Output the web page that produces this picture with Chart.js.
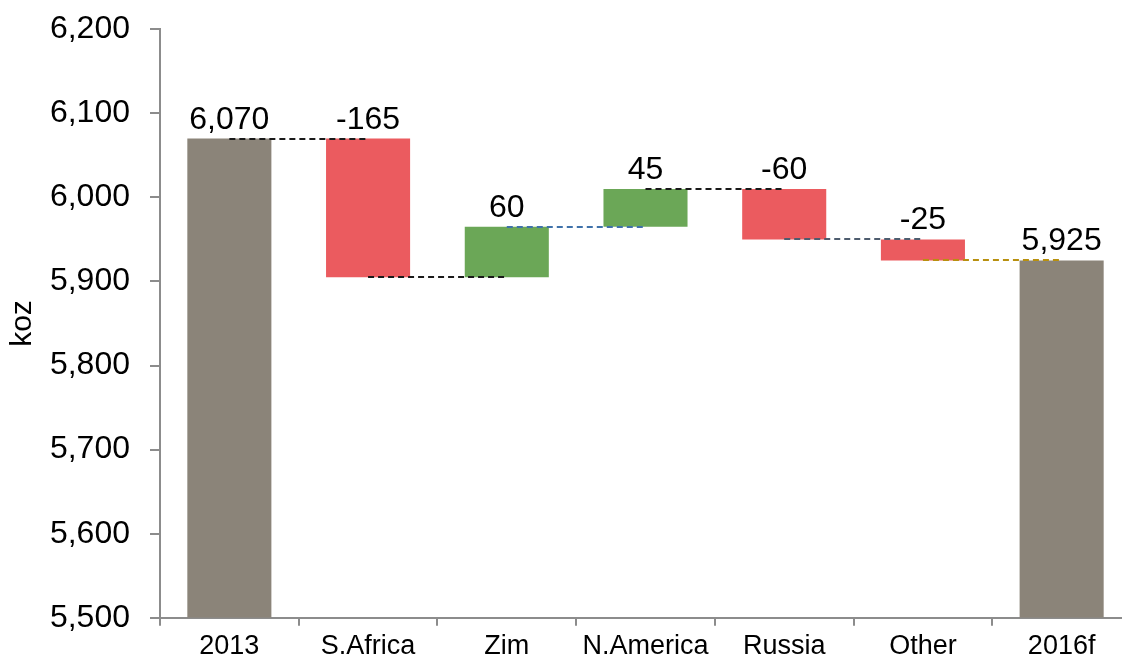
<!DOCTYPE html>
<html>
<head>
<meta charset="utf-8">
<script src="https://cdn.jsdelivr.net/npm/chart.js@4"></script>
<style>
  html, body { margin: 0; padding: 0; background: #fff; overflow: hidden; }
  #wrap { width: 1131px; height: 667px; margin-top: -10px; position: relative; }
</style>
</head>
<body>
<div id="wrap"><canvas id="waterfall"></canvas></div>
<script>
// production bridge, koz
var categories = ['2013', 'S.Africa', 'Zim', 'N.America', 'Russia', 'Other', '2016f'];
var startTotal = 6070;
var changes = [-165, 60, 45, -60, -25];
var endTotal = 5925;
var yTicks = [5500, 5600, 5700, 5800, 5900, 6000, 6100, 6200];

// build floating bars [low, high] from the running level
var ranges = [[yTicks[0], startTotal]];
var labels = [startTotal.toLocaleString('en-US')];
var kinds = ['total'];
var level = startTotal;
changes.forEach(function (d) {
    var next = level + d;
    ranges.push([Math.min(level, next), Math.max(level, next)]);
    labels.push(String(d));
    kinds.push(d < 0 ? 'down' : 'up');
    level = next;
});
ranges.push([yTicks[0], endTotal]);
labels.push(endTotal.toLocaleString('en-US'));
kinds.push('total');

var colours = { total: '#8b8479', down: '#eb5b5f', up: '#6ba757' };
var linkColours = ['#1a1a1a', '#1a1a1a', '#3f72aa', '#1a1a1a', '#4e5c6e', '#b8900f'];

// dashed links between consecutive bars + value labels above bars
var waterfallExtras = {
    id: 'waterfallExtras',
    afterDatasetsDraw: function (chart) {
        var c = chart.ctx;
        var xs = chart.scales.x, ys = chart.scales.y;
        var lvl = startTotal;
        var levels = [startTotal];
        changes.forEach(function (d) { lvl += d; levels.push(lvl); });

        c.save();
        c.lineWidth = 1.8;
        c.setLineDash([6, 4]);
        for (var i = 0; i < categories.length - 1; i++) {
            var y = Math.round(ys.getPixelForValue(levels[i]));
            c.strokeStyle = linkColours[i];
            c.beginPath();
            c.moveTo(xs.getPixelForValue(i), y);
            c.lineTo(xs.getPixelForValue(i + 1), y);
            c.stroke();
        }
        c.setLineDash([]);

        c.fillStyle = '#000';
        c.font = '32px "Liberation Sans", Arial, sans-serif';
        c.textAlign = 'center';
        c.textBaseline = 'alphabetic';
        ranges.forEach(function (r, i) {
            c.fillText(labels[i], xs.getPixelForValue(i), ys.getPixelForValue(r[1]) - 10);
        });
        c.restore();
    }
};

var ctx = document.getElementById('waterfall').getContext('2d');
var chart = new Chart(ctx, {
    type: 'bar',
    data: {
        labels: categories,
        datasets: [{
            data: ranges,
            backgroundColor: kinds.map(function (k) { return colours[k]; }),
            borderWidth: 0,
            categoryPercentage: 1,
            barPercentage: 0.606
        }]
    },
    options: {
        responsive: true,
        maintainAspectRatio: false,
        animation: false,
        layout: { padding: { top: 18, right: 0, left: 0, bottom: 0 } },
        plugins: {
            legend: { display: false },
            tooltip: { enabled: false }
        },
        scales: {
            x: {
                grid: { display: true, drawOnChartArea: false, drawTicks: true, tickLength: 8, color: '#8c8c8c', lineWidth: 2 },
                border: { display: true, color: '#8c8c8c', width: 2 },
                ticks: {
                    color: '#000',
                    padding: 5,
                    maxRotation: 0,
                    font: { family: '"Liberation Sans", Arial, sans-serif', size: 27 }
                },
                afterFit: function (s) { s.height = 39; }
            },
            y: {
                min: yTicks[0],
                max: yTicks[yTicks.length - 1],
                grid: { display: true, drawOnChartArea: false, drawTicks: true, tickLength: 10, color: '#8c8c8c', lineWidth: 2 },
                border: { display: true, color: '#8c8c8c', width: 2 },
                afterBuildTicks: function (s) {
                    s.ticks = yTicks.map(function (v) { return { value: v }; });
                },
                ticks: {
                    color: '#000',
                    padding: 20,
                    font: { family: '"Liberation Sans", Arial, sans-serif', size: 32 },
                    callback: function (v) { return Number(v).toLocaleString('en-US'); }
                },
                title: {
                    display: true,
                    text: 'koz',
                    color: '#000',
                    padding: { top: 5, bottom: 0 },
                    font: { family: '"Liberation Sans", Arial, sans-serif', size: 30 }
                },
                afterFit: function (s) { s.width = 160; }
            }
        }
    },
    plugins: [waterfallExtras]
});
</script>
</body>
</html>
